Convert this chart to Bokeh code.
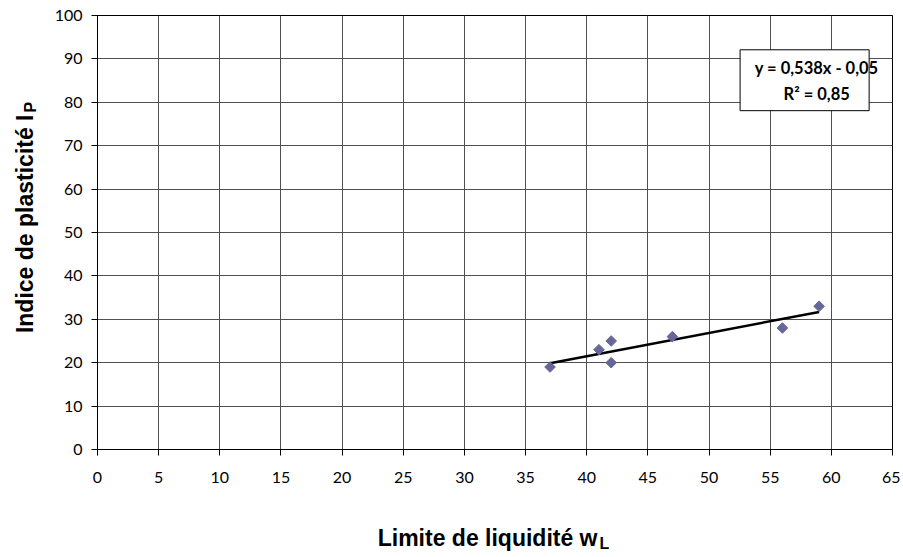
import numpy as np
from bokeh.plotting import figure
from bokeh.models import Label, BoxAnnotation, FixedTicker, Range1d, ColumnDataSource
from bokeh.embed import file_html
from bokeh.resources import INLINE

# ---- data ----
liquid_limit = [37, 41, 42, 42, 47, 56, 59]
plasticity_index = [19, 23, 25, 20, 26, 28, 33]
x_ticks = list(range(0, 66, 5))
y_ticks = list(range(0, 101, 10))
x_title = "Limite de liquidité w"
x_title_sub = "L"
y_title = "Indice de plasticité I"
y_title_sub = "P"
eq_line1 = "y = 0,538x - 0,05"
eq_line2 = "R² = 0,85"

# linear trend line computed from the data
slope, intercept = np.polyfit(liquid_limit, plasticity_index, 1)
fit_x = np.array([min(liquid_limit), max(liquid_limit)], dtype=float)
fit_y = slope * fit_x + intercept

W, H = 900, 555
p = figure(width=W, height=H, x_range=Range1d(0, 65), y_range=Range1d(0, 100),
           output_backend="svg", toolbar_location=None,
           min_border_left=97, min_border_right=8, min_border_top=15, min_border_bottom=106,
           background_fill_color="white", border_fill_color="white")
p.outline_line_color = "black"
p.outline_line_width = 1

for ax, ticks in ((p.xaxis, x_ticks), (p.yaxis, y_ticks)):
    ax.ticker = FixedTicker(ticks=ticks)
    ax.major_tick_out = 6
    ax.major_tick_in = 0
    ax.minor_tick_line_color = None
    ax.axis_line_color = "black"
    ax.major_tick_line_color = "black"
    ax.major_label_text_font = "Lato"
    ax.major_label_text_font_size = "16px"
    ax.major_label_text_color = "black"
p.xaxis.major_label_standoff = 16
p.yaxis.major_label_standoff = 9

p.xgrid.ticker = FixedTicker(ticks=x_ticks)
p.ygrid.ticker = FixedTicker(ticks=y_ticks)
for g in (p.xgrid, p.ygrid):
    g.grid_line_color = "#505050"
    g.grid_line_width = 1

src = ColumnDataSource(dict(x=liquid_limit, y=plasticity_index))
p.line(fit_x, fit_y, line_color="black", line_width=2.5)
p.scatter("x", "y", source=src, marker="square", angle=np.pi / 4, size=7.5,
          fill_color="#666699", line_color="#666699")

# equation box (annotation, placed in the upper right of the plot area)
p.add_layout(BoxAnnotation(left=52.54, right=63.09, bottom=78.07, top=92.1,
                           fill_color="white", fill_alpha=1.0,
                           line_color="black", line_alpha=1.0, line_width=1))
for txt, yy in ((eq_line1, 87.9), (eq_line2, 81.9)):
    p.add_layout(Label(x=58.8, y=yy, text=txt, text_align="center", text_baseline="middle",
                       text_font="Lato", text_font_style="bold", text_font_size="16.5px",
                       text_color="black"))

# axis titles with subscripts, placed in the side panels (canvas units, top-down)
tfont = "Liberation Sans"
tsize = "23px"
ssize = "16px"
p.add_layout(Label(x=597, y=537, x_units="canvas", y_units="canvas", text=x_title,
                   text_align="right", text_baseline="alphabetic", text_font=tfont,
                   text_font_style="bold", text_font_size=tsize, text_color="black"), "below")
p.add_layout(Label(x=599, y=543, x_units="canvas", y_units="canvas", text=x_title_sub,
                   text_align="left", text_baseline="alphabetic", text_font=tfont,
                   text_font_style="bold", text_font_size=ssize, text_color="black"), "below")
p.add_layout(Label(x=24, y=114, x_units="canvas", y_units="canvas", text=y_title, angle=np.pi / 2,
                   text_align="right", text_baseline="alphabetic", text_font=tfont,
                   text_font_style="bold", text_font_size=tsize, text_color="black"), "left")
p.add_layout(Label(x=30, y=112, x_units="canvas", y_units="canvas", text=y_title_sub, angle=np.pi / 2,
                   text_align="left", text_baseline="alphabetic", text_font=tfont,
                   text_font_style="bold", text_font_size=ssize, text_color="black"), "left")

open("out.html", "w").write(file_html(p, INLINE))
